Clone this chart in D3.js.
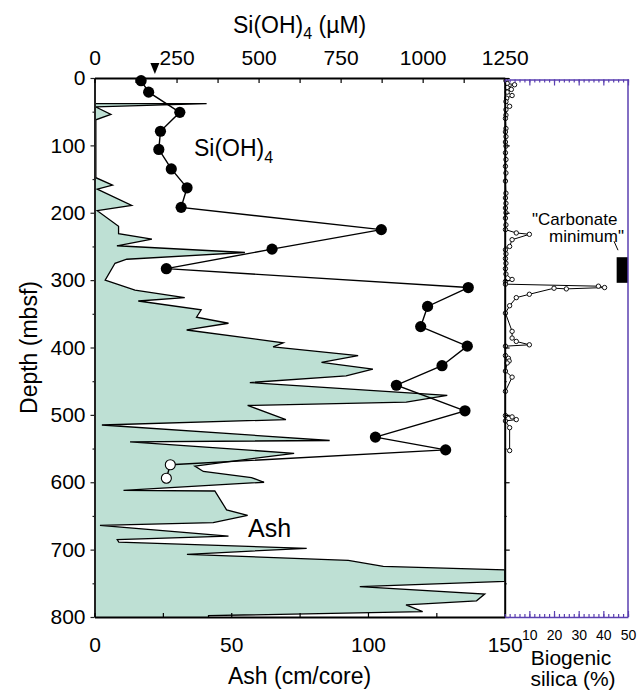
<!DOCTYPE html>
<html><head><meta charset="utf-8">
<script src="https://cdn.jsdelivr.net/npm/d3@7"></script>
<style>
body{margin:0;background:#fff}
svg{display:block}
text{font-family:"Liberation Sans",Arial,Helvetica,sans-serif;fill:#000}
</style>
</head><body>
<svg id="chart" width="638" height="690"></svg>
<script>
// ---------------- DATA ----------------
const depthTicks = [0,100,200,300,400,500,600,700,800];
const depthMinor = [50,150,250,350,450,550,650,750];
const siTicks = [0,250,500,750,1000,1250];
const siMinor = [125,375,625,875,1125];
const ashTicks = [0,50,100,150];
const ashMinor = [25,75,125];
const bsiTicks = [10,20,30,40,50];

// Ash (cm/core) vs depth (mbsf)
const ashDepth = [38,38,43,54,62,148,159,165,189,197,220,231,239,249,259,269,275,300,315,326,331,344,355,364,374,393,399,412,422,432,442,452,471,481,486,507,515,538,540,557,576,584,593,600,612,613,641,649,660,664,680,685,689,698,707,716,725,730,747,755,766,776,782,792,798,800];
const ashValue = [0,41,0.5,6,0.5,0.5,6.6,1,13.6,1,8.8,8.8,21,8.2,55,11.8,7.5,3.9,14.8,33,16,39,37.3,49,33.7,69,65.3,96.4,83,101.8,92,56.8,129,114,56,70,2.7,86,13,73,36.7,39.8,57.4,62,10.6,44,48.3,56,43.4,2,49,8.3,8.9,77.6,33.8,92.8,105.6,150,150,97,142.7,139.7,113.9,120,41.7,41.7];

// Si(OH)4 (uM) pore water vs depth
const siDepth = [4,21,51,79,106,135,163,192,225,254,283,311,339,369,398,427,456,494,533,552,574,594];
const siValue = [142,165,260,201,196,234,282,264,874,541,219,1139,1015,994,1136,1059,920,1129,856,1070,231,219];
const siOpen  = [0,0,0,0,0,0,0,0,0,0,0,0,0,0,0,0,0,0,0,0,1,1];
const siMarker = 184; // inverted triangle on top axis

// Biogenic silica (%) vs depth
const bsiDepth = [4,8,10,14,17,21,26,30,35,42,47,55,60,75,80,87,95,101,111,121,131,141,153,171,178,186,193,200,208,218,225,230,232,240,250,255,261,268,275,283,291,299,302,306,309,311,313,312,321,326,338,349,376,386,391,396,398,412,416,420,423,435,444,465,501,503,507,509,519,553];
const bsiValue = [0.5,1,4,1,2.7,1,3,0.8,0.5,2,0.5,0.5,0.3,0.5,0.3,0.5,0.3,0.5,0.3,0.5,0.3,0.5,0.3,0.5,0.3,0.5,0.3,0.5,0.3,0.5,0.3,4.7,10,3,2,0.3,0.5,0.3,0.5,0.3,0.5,3,0.3,0.3,38,40.5,25,20,10,4.7,2,0.3,3,3,4.7,10,0.3,0.3,1.5,1.8,1,0.3,3,0.3,0.3,3,4.7,0.3,2,2];

// "Carbonate minimum" interval (mbsf) and its bar extent in % units
const carbDepth = [266,304];
const carbRange = [45.4,50];

// ---------------- LAYOUT ----------------
const plotLeft=94.5, plotRight=504.7, plotTop=78, plotBottom=617, bsiRight=628, bsiTop=79.5;
const purple = "#5a3fb0";
const ashFill = "#bee0d4";
const FS = 21;

const svg = d3.select("#chart");
const y = d3.scaleLinear().domain([0,800]).range([plotTop,plotBottom]);
const xAsh = d3.scaleLinear().domain([0,150]).range([plotLeft,plotRight]);
const xSi = d3.scaleLinear().domain([0,1250]).range([plotLeft,plotRight]);
const xB = d3.scaleLinear().domain([0,50]).range([plotRight,bsiRight]);
const fmt = d3.format("d");

svg.append("defs").append("clipPath").attr("id","clipMain")
  .append("rect").attr("x",plotLeft).attr("y",plotTop).attr("width",plotRight-plotLeft).attr("height",plotBottom-plotTop);

// ---------------- ASH AREA ----------------
const ashData = ashDepth.map((d,i)=>({depth:d, v:ashValue[i]}));
const gAsh = svg.append("g").attr("clip-path","url(#clipMain)");
gAsh.append("path").datum(ashData)
  .attr("d", d3.area().y(d=>y(d.depth)).x0(xAsh(0)).x1(d=>xAsh(d.v)))
  .attr("fill", ashFill).attr("stroke","none");
gAsh.append("path").datum(ashData)
  .attr("d", d3.line().y(d=>y(d.depth)).x(d=>xAsh(d.v)))
  .attr("fill","none").attr("stroke","#000").attr("stroke-width",1.3).attr("stroke-linejoin","miter");

// ---------------- BIOGENIC SILICA ----------------
const bsiData = bsiDepth.map((d,i)=>({depth:d, v:bsiValue[i]}));
const gB = svg.append("g");
gB.append("path").datum(bsiData)
  .attr("d", d3.line().y(d=>y(d.depth)).x(d=>xB(d.v)))
  .attr("fill","none").attr("stroke","#000").attr("stroke-width",1);
gB.selectAll("circle").data(bsiData).join("circle")
  .attr("cx",d=>xB(d.v)).attr("cy",d=>y(d.depth)).attr("r",2.2)
  .attr("fill","#fff").attr("stroke","#111").attr("stroke-width",1);

// carbonate minimum bar
svg.append("rect")
  .attr("x", xB(carbRange[0])).attr("y", y(carbDepth[0]))
  .attr("width", xB(carbRange[1])-xB(carbRange[0])).attr("height", y(carbDepth[1])-y(carbDepth[0]))
  .attr("fill","#000");
svg.append("line").attr("x1",614).attr("y1",y(carbDepth[0])-16).attr("x2",618).attr("y2",y(carbDepth[0])-7)
  .attr("stroke","#000").attr("stroke-width",1);
svg.append("text").attr("x",532).attr("y",225).attr("font-size",17).text("\"Carbonate");
svg.append("text").attr("x",549).attr("y",242).attr("font-size",17).text("minimum\"");

// ---------------- Si(OH)4 ----------------
const siData = siDepth.map((d,i)=>({depth:d, v:siValue[i], open:siOpen[i]}));
svg.append("path").datum(siData)
  .attr("d", d3.line().y(d=>y(d.depth)).x(d=>xSi(d.v)))
  .attr("fill","none").attr("stroke","#000").attr("stroke-width",1.4);
svg.selectAll("circle.si").data(siData).join("circle").attr("class","si")
  .attr("cx",d=>xSi(d.v)).attr("cy",d=>y(d.depth))
  .attr("r",d=>d.open?5:5.6)
  .attr("fill",d=>d.open?"#fff":"#000").attr("stroke","#000").attr("stroke-width",d=>d.open?1.1:0);

// ---------------- AXES ----------------
function styleAxis(g, color, w, fs){
  g.selectAll("path.domain").attr("stroke",color).attr("stroke-width",w);
  g.selectAll(".tick line").attr("stroke",color).attr("stroke-width",1.2);
  g.selectAll(".tick text").attr("font-size",fs).attr("font-family","Liberation Sans, Arial, sans-serif").attr("fill","#000");
}
// left depth axis
const gL = svg.append("g").attr("transform",`translate(${plotLeft},0)`)
  .call(d3.axisLeft(y).tickValues(depthTicks).tickFormat(fmt).tickSize(4).tickPadding(5).tickSizeOuter(0));
styleAxis(gL,"#222",2,FS);
const gLm = svg.append("g").attr("transform",`translate(${plotLeft},0)`)
  .call(d3.axisLeft(y).tickValues(depthMinor).tickSize(2).tickFormat(""));
gLm.select("path.domain").remove(); styleAxis(gLm,"#222",0,FS);
// right depth axis of main panel
const gR = svg.append("g").attr("transform",`translate(${plotRight},0)`)
  .call(d3.axisRight(y).tickValues(depthTicks).tickSize(5).tickFormat("").tickSizeOuter(0));
styleAxis(gR,"#000",2,FS);
const gRm = svg.append("g").attr("transform",`translate(${plotRight},0)`)
  .call(d3.axisRight(y).tickValues(depthMinor).tickSize(2).tickFormat(""));
gRm.select("path.domain").remove(); styleAxis(gRm,"#000",0,FS);
// top Si axis
const gT = svg.append("g").attr("transform",`translate(0,${plotTop})`)
  .call(d3.axisTop(xSi).tickValues(siTicks).tickFormat(fmt).tickSize(-5).tickPadding(13).tickSizeOuter(0));
styleAxis(gT,"#000",2,FS);
const gTm = svg.append("g").attr("transform",`translate(0,${plotTop})`)
  .call(d3.axisTop(xSi).tickValues(siMinor).tickSize(-5).tickFormat(""));
gTm.select("path.domain").remove(); styleAxis(gTm,"#000",0,FS);
// bottom Ash axis
const gB2 = svg.append("g").attr("transform",`translate(0,${plotBottom})`)
  .call(d3.axisBottom(xAsh).tickValues(ashTicks).tickFormat(fmt).tickSize(-4).tickPadding(20).tickSizeOuter(0));
styleAxis(gB2,"#000",2,FS);
const gBm = svg.append("g").attr("transform",`translate(0,${plotBottom})`)
  .call(d3.axisBottom(xAsh).tickValues(ashMinor).tickSize(-4).tickFormat(""));
gBm.select("path.domain").remove(); styleAxis(gBm,"#000",0,FS);

// biogenic silica panel axes (purple)
const bMinor = d3.range(0,51,2);
const gPT = svg.append("g").attr("transform",`translate(0,${bsiTop})`)
  .call(d3.axisTop(xB).tickValues(bMinor).tickSize(-3).tickFormat("").tickSizeOuter(0));
styleAxis(gPT,purple,1.5,13);
const gPT2 = svg.append("g").attr("transform",`translate(0,${bsiTop})`)
  .call(d3.axisTop(xB).tickValues(bsiTicks).tickSize(-6).tickFormat(""));
gPT2.select("path.domain").remove(); styleAxis(gPT2,purple,0,13);
const gPB = svg.append("g").attr("transform",`translate(0,${plotBottom})`)
  .call(d3.axisBottom(xB).tickValues(bMinor).tickSize(-3).tickFormat("").tickSizeOuter(0));
styleAxis(gPB,purple,1.5,13);
const gPB2 = svg.append("g").attr("transform",`translate(0,${plotBottom})`)
  .call(d3.axisBottom(xB).tickValues(bsiTicks).tickFormat(fmt).tickSize(-6).tickPadding(13));
gPB2.select("path.domain").remove(); styleAxis(gPB2,purple,0,14);
svg.append("line").attr("x1",bsiRight).attr("x2",bsiRight).attr("y1",bsiTop).attr("y2",plotBottom)
  .attr("stroke",purple).attr("stroke-width",1.5);

// triangle marker on top axis
const tx = xSi(siMarker);
svg.append("path").attr("d",`M${tx-4.5},${plotTop-15}L${tx+4.5},${plotTop-15}L${tx},${plotTop-4}Z`).attr("fill","#000");

// ---------------- LABELS ----------------
const t1 = svg.append("text").attr("x",(plotLeft+plotRight)/2).attr("y",33).attr("text-anchor","middle").attr("font-size",23);
t1.append("tspan").text("Si(OH)");
t1.append("tspan").attr("font-size",16).attr("dy",6).text("4");
t1.append("tspan").attr("dy",-6).text(" (µM)");

const t2 = svg.append("text").attr("x",194).attr("y",156).attr("font-size",23);
t2.append("tspan").text("Si(OH)");
t2.append("tspan").attr("font-size",16).attr("dy",7).text("4");

svg.append("text").attr("x",248).attr("y",537).attr("font-size",25).text("Ash");
svg.append("text").attr("x",(plotLeft+plotRight)/2).attr("y",684).attr("text-anchor","middle").attr("font-size",23).text("Ash (cm/core)");
svg.append("text").attr("transform",`translate(37,${(plotTop+plotBottom)/2}) rotate(-90)`).attr("text-anchor","middle").attr("font-size",23).text("Depth (mbsf)");
svg.append("text").attr("x",571).attr("y",665).attr("text-anchor","middle").attr("font-size",21).text("Biogenic");
svg.append("text").attr("x",573).attr("y",686).attr("text-anchor","middle").attr("font-size",21).text("silica (%)");
</script>
</body></html>
